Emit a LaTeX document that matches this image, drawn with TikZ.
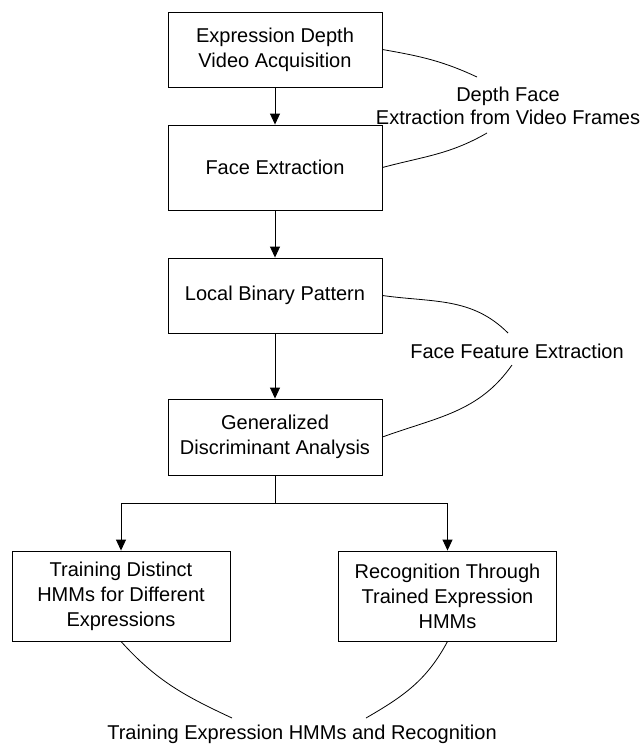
\documentclass[tikz,border=0pt]{standalone}
\usepackage{fontspec}
\setmainfont{Liberation Sans}
\usetikzlibrary{arrows.meta}
\begin{document}
\begin{tikzpicture}[
  x=1pt, y=1pt,
  every node/.style={font=\fontsize{20}{22.5}\selectfont},
  stage/.style={draw, line width=0.9pt, minimum width=214pt, minimum height=75pt, align=center, inner sep=2pt, font=\fontsize{20}{25}\selectfont},
  flow/.style={line width=0.9pt, -{Triangle[length=11pt,width=10pt]}},
  hook/.style={line width=0.8pt}
]
\useasboundingbox (0,0) rectangle (643,-745);
% main stages
\node[stage] (acq) at (275,-49.5) {Expression Depth\\Video Acquisition};
\node[stage, minimum height=85pt] (face) at (275,-167.5) {Face Extraction};
\node[stage] (lbp) at (275,-295.5) {Local Binary Pattern};
\node[stage, minimum height=76pt] (gda) at (275,-437) {Generalized\\Discriminant Analysis};
\node[stage, minimum width=218pt, minimum height=90pt] (train) at (121,-596) {Training Distinct\\HMMs for Different\\Expressions};
\node[stage, minimum width=218pt, minimum height=90pt] (recog) at (447.5,-596) {Recognition Through\\Trained Expression\\HMMs};
% group labels
\node[align=center] (lblface) at (508,-106) {Depth Face\\Extraction from Video Frames};
\node (lblfeat) at (517,-351) {Face Feature Extraction};
\node (lblhmm) at (302,-734) {Training Expression HMMs and Recognition};
% flow
\draw[flow] (acq) -- (face);
\draw[flow] (face) -- (lbp);
\draw[flow] (lbp) -- (gda);
\coordinate (split) at (275,-503);
\draw[line width=0.9pt] (gda.south) -- (split);
\draw[flow] (split) -| (train.north);
\draw[flow] (split) -| (recog.north);
% grouping curves
\coordinate (f1) at (477,-77);
\coordinate (f2) at (487,-133);
\coordinate (g1) at (508,-333);
\coordinate (g2) at (512,-365);
\coordinate (h1) at (232,-718);
\coordinate (h2) at (366,-718);
\draw[hook] (acq.east) to[out=-10,in=155] (f1);
\draw[hook] (face.east) to[out=15,in=-150] (f2);
\draw[hook] (lbp.east) to[out=-8,in=135] (g1);
\draw[hook] (gda.east) to[out=20,in=-125] (g2);
\draw[hook] (train.south) to[out=-48,in=155] (h1);
\draw[hook] (recog.south) to[out=-118,in=30] (h2);
\end{tikzpicture}
\end{document}
